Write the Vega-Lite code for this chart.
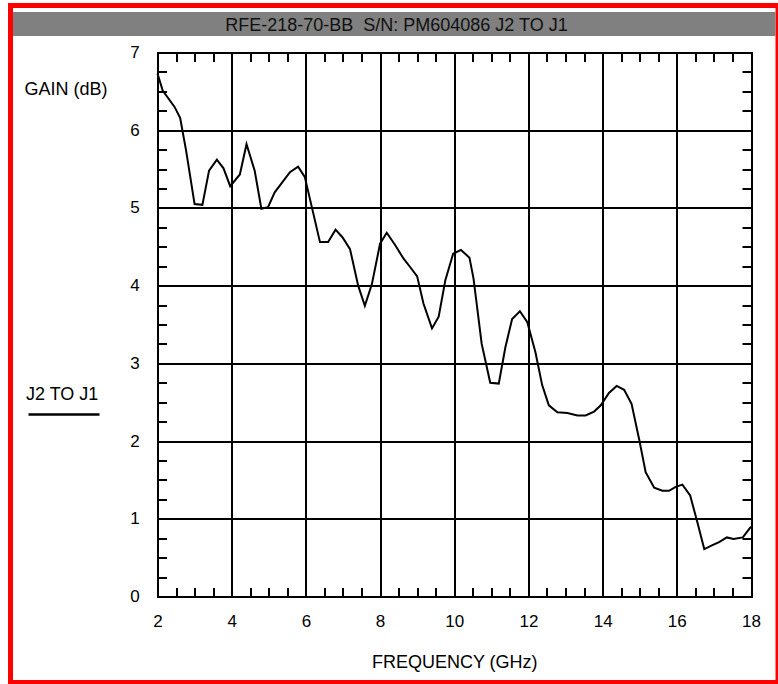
{
  "$schema": "https://vega.github.io/schema/vega-lite/v6.json",
  "width": 767.5,
  "height": 677,
  "autosize": {"type": "none"},
  "padding": {"left": 10.5, "top": 5.5, "right": 0, "bottom": 1.5},
  "background": "white",
  "config": {
    "view": {"stroke": "#ff0000", "strokeWidth": 5, "fill": "white"},
    "font": "Liberation Sans",
    "axis": {
      "domain": false,
      "labelFont": "Liberation Sans",
      "titleFont": "Liberation Sans",
      "labelColor": "#000000",
      "titleColor": "#000000",
      "tickColor": "#000000",
      "tickWidth": 2,
      "gridColor": "#000000",
      "gridWidth": 2,
      "gridCap": "square",
      "labelFontSize": 17,
      "titleFontSize": 18,
      "titleFontWeight": "normal",
      "labelFlush": false,
      "labelOverlap": false
    }
  },
  "data": {
    "values": [
      {"freq": 2.0, "gain": 6.73}, {"freq": 2.14, "gain": 6.51}, {"freq": 2.46, "gain": 6.30},
      {"freq": 2.61, "gain": 6.16}, {"freq": 2.77, "gain": 5.74}, {"freq": 3.0, "gain": 5.05},
      {"freq": 3.21, "gain": 5.04}, {"freq": 3.39, "gain": 5.48}, {"freq": 3.6, "gain": 5.62},
      {"freq": 3.78, "gain": 5.51}, {"freq": 3.96, "gain": 5.28}, {"freq": 4.22, "gain": 5.43},
      {"freq": 4.40, "gain": 5.82}, {"freq": 4.62, "gain": 5.48}, {"freq": 4.80, "gain": 4.99},
      {"freq": 4.98, "gain": 5.01}, {"freq": 5.16, "gain": 5.20}, {"freq": 5.57, "gain": 5.46},
      {"freq": 5.79, "gain": 5.53}, {"freq": 5.97, "gain": 5.40}, {"freq": 6.2, "gain": 4.93},
      {"freq": 6.38, "gain": 4.56}, {"freq": 6.6, "gain": 4.56}, {"freq": 6.80, "gain": 4.72},
      {"freq": 6.99, "gain": 4.62}, {"freq": 7.19, "gain": 4.47}, {"freq": 7.41, "gain": 4.0},
      {"freq": 7.59, "gain": 3.74}, {"freq": 7.78, "gain": 4.02}, {"freq": 8.0, "gain": 4.54},
      {"freq": 8.18, "gain": 4.68}, {"freq": 8.41, "gain": 4.52}, {"freq": 8.63, "gain": 4.35},
      {"freq": 8.81, "gain": 4.24}, {"freq": 9.0, "gain": 4.12}, {"freq": 9.17, "gain": 3.77},
      {"freq": 9.40, "gain": 3.45}, {"freq": 9.58, "gain": 3.60}, {"freq": 9.76, "gain": 4.07},
      {"freq": 9.97, "gain": 4.41}, {"freq": 10.18, "gain": 4.46}, {"freq": 10.41, "gain": 4.36},
      {"freq": 10.52, "gain": 4.09}, {"freq": 10.74, "gain": 3.25}, {"freq": 10.97, "gain": 2.75},
      {"freq": 11.2, "gain": 2.74}, {"freq": 11.38, "gain": 3.21}, {"freq": 11.56, "gain": 3.57},
      {"freq": 11.77, "gain": 3.67}, {"freq": 11.97, "gain": 3.53}, {"freq": 12.19, "gain": 3.14},
      {"freq": 12.37, "gain": 2.72}, {"freq": 12.55, "gain": 2.46}, {"freq": 12.78, "gain": 2.37},
      {"freq": 13.05, "gain": 2.36}, {"freq": 13.32, "gain": 2.33}, {"freq": 13.54, "gain": 2.33},
      {"freq": 13.77, "gain": 2.38}, {"freq": 13.95, "gain": 2.46}, {"freq": 14.17, "gain": 2.62},
      {"freq": 14.38, "gain": 2.71}, {"freq": 14.58, "gain": 2.66}, {"freq": 14.78, "gain": 2.48},
      {"freq": 14.99, "gain": 2.01}, {"freq": 15.16, "gain": 1.60}, {"freq": 15.39, "gain": 1.40},
      {"freq": 15.61, "gain": 1.36}, {"freq": 15.79, "gain": 1.36}, {"freq": 15.97, "gain": 1.41},
      {"freq": 16.15, "gain": 1.44}, {"freq": 16.36, "gain": 1.30}, {"freq": 16.54, "gain": 0.98},
      {"freq": 16.74, "gain": 0.61}, {"freq": 16.96, "gain": 0.66}, {"freq": 17.14, "gain": 0.70},
      {"freq": 17.35, "gain": 0.76}, {"freq": 17.53, "gain": 0.74}, {"freq": 17.78, "gain": 0.76},
      {"freq": 18.0, "gain": 0.90}
    ]
  },
  "resolve": {"axis": {"x": "independent", "y": "independent"}},
  "layer": [
    {
      "data": {"values": [{}]},
      "mark": {"type": "rect", "color": "#808080"},
      "encoding": {
        "x": {
          "datum": -1.896, "type": "quantitative",
          "axis": {
            "orient": "top", "offset": -56, "tickCount": 200,
            "values": [2,2.5,3,3.5,4,4.5,5,5.5,6,6.5,7,7.5,8,8.5,9,9.5,10,10.5,11,11.5,12,12.5,13,13.5,14,14.5,15,15.5,16,16.5,17,17.5,18],
            "ticks": true, "tickSize": 9, "labels": false,
            "grid": true,
            "gridOpacity": {"condition": {"test": "datum.value % 2 === 0", "value": 1}, "value": 0},
            "title": "RFE-218-70-BB\u00a0 S/N: PM604086 J2 TO J1",
            "titleX": 385.5, "titleY": -36.5, "titleAlign": "center", "titleBaseline": "middle",
            "titleFontSize": 18, "titleColor": "#111111", "zindex": 1
          }
        },
        "x2": {"datum": 18.662},
        "y": {
          "datum": 7.521, "type": "quantitative",
          "axis": {
            "orient": "right", "offset": -36, "tickCount": 200,
            "values": [0,0.25,0.5,0.75,1,1.25,1.5,1.75,2,2.25,2.5,2.75,3,3.25,3.5,3.75,4,4.25,4.5,4.75,5,5.25,5.5,5.75,6,6.25,6.5,6.75,7],
            "ticks": true, "tickSize": 9, "labels": false, "grid": false, "title": null
          }
        },
        "y2": {"datum": 7.212}
      }
    },
    {
      "mark": {"type": "line", "strokeWidth": 2},
      "encoding": {
        "x": {
          "field": "freq", "type": "quantitative",
          "scale": {"domain": [2, 18], "range": [147, 740.5], "nice": false, "zero": false},
          "axis": {
            "orient": "bottom", "offset": -95, "tickCount": 200,
            "values": [2,2.5,3,3.5,4,4.5,5,5.5,6,6.5,7,7.5,8,8.5,9,9.5,10,10.5,11,11.5,12,12.5,13,13.5,14,14.5,15,15.5,16,16.5,17,17.5,18],
            "ticks": true, "tickSize": 9,
            "labelExpr": "datum.value % 2 === 0 ? '' + datum.value : ''",
            "labelPadding": 24.5, "labelBaseline": "middle",
            "grid": false,
            "title": "FREQUENCY (GHz)", "titleY": 75, "titleBaseline": "middle"
          }
        },
        "y": {
          "field": "gain", "type": "quantitative",
          "scale": {"domain": [0, 7], "range": [591, 47], "nice": false, "zero": false},
          "axis": {
            "orient": "left", "offset": -156, "tickCount": 200,
            "values": [0,0.25,0.5,0.75,1,1.25,1.5,1.75,2,2.25,2.5,2.75,3,3.25,3.5,3.75,4,4.25,4.5,4.75,5,5.25,5.5,5.75,6,6.25,6.5,6.75,7],
            "ticks": true, "tickSize": 9,
            "labelExpr": "datum.value % 1 === 0 ? '' + datum.value : ''",
            "labelPadding": 18.2,
            "grid": true,
            "gridOpacity": {"condition": {"test": "datum.value % 1 === 0", "value": 1}, "value": 0},
            "title": "GAIN (dB)", "titleAngle": 0, "titleAlign": "left", "titleBaseline": "middle",
            "titleX": -142.5, "titleY": 84
          }
        },
        "color": {
          "datum": "J2 TO J1",
          "scale": {"range": ["#000000"]},
          "legend": {
            "orient": "none", "legendX": 16.5, "legendY": 352, "title": null, "padding": 0,
            "symbolType": "M-1,0.56L1,0.56", "symbolSize": 5041, "symbolStrokeWidth": 2.5,
            "symbolStrokeColor": "#000000",
            "labelFont": "Liberation Sans", "labelFontSize": 18, "labelColor": "#000000", "labelOffset": -75
          }
        }
      }
    }
  ]
}
